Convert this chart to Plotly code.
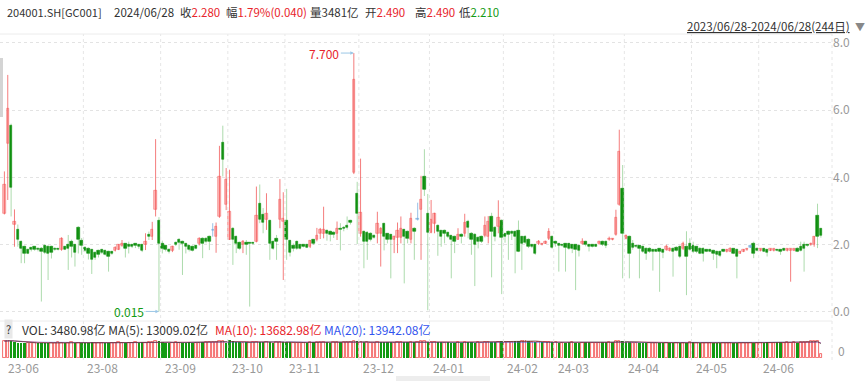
import numpy as np
import pandas as pd
import plotly.graph_objects as go

# ---------------- data ----------------
holidays = ["2023-09-29", "2023-10-02", "2023-10-03", "2023-10-04", "2023-10-05", "2023-10-06",
            "2024-01-01", "2024-02-09", "2024-02-12", "2024-02-13", "2024-02-14", "2024-02-15",
            "2024-02-16", "2024-04-04", "2024-04-05", "2024-05-01", "2024-05-02", "2024-05-03",
            "2024-06-10"]
dates = pd.bdate_range("2023-06-28", "2024-06-28", freq="C", holidays=holidays)

open_ = [
    2.94, 5.00, 5.54,
    2.59, 2.44, 2.09, 1.94, 1.85, 1.90, 1.94, 1.89, 1.89, 1.96, 1.94, 1.94, 1.89, 1.88, 1.84, 1.94, 1.99, 2.10, 1.99, 2.51, 2.12,
    1.92, 1.89, 1.84, 1.76, 1.82, 1.84, 1.82, 1.79, 1.79, 1.82, 1.86, 1.96, 2.02, 1.99, 1.99, 2.02, 1.99, 1.99, 1.99, 2.29, 2.24, 3.03, 2.73,
    2.02, 1.96, 1.86, 1.82, 2.06, 2.16, 2.09, 2.02, 1.96, 1.94, 1.96, 2.02, 2.19, 2.19, 2.24, 2.42, 2.24, 2.84, 5.04, 3.18,
    2.16, 2.49, 2.24, 2.06, 1.99, 2.04, 2.06, 2.04, 2.09, 3.21, 2.89, 2.74, 2.71, 2.09, 2.19, 2.74, 2.70,
    2.71, 2.11, 1.96, 2.09, 1.99, 1.98, 1.99, 1.94, 2.14, 2.14, 2.32, 2.32, 2.42, 2.39, 2.37, 2.34, 2.47, 2.50, 2.56, 2.71, 4.15, 3.51,
    2.34, 2.39, 2.36, 2.34, 2.26, 2.34, 2.34, 2.62, 2.32, 2.29, 2.14, 2.22, 2.22, 2.44, 2.39, 2.14, 2.49, 2.74, 3.04, 4.03, 2.92,
    2.36, 2.64, 2.56, 2.41, 2.42, 2.36, 2.26, 2.24, 2.16, 2.31, 2.34, 2.69, 2.34, 2.31, 2.22, 2.24, 2.26, 2.24, 2.85, 2.52, 2.54, 2.72,
    2.32, 2.39, 2.39, 2.39, 2.41, 2.24, 2.24, 2.16, 1.99, 1.99, 2.02, 2.00, 2.04, 2.19, 2.24,
    2.09, 2.02, 2.00, 2.02, 2.02, 1.99, 1.99, 1.97, 2.02, 2.09, 1.99, 1.98, 1.96, 2.02, 2.09, 2.09, 2.14, 2.15, 2.29, 3.18, 3.68,
    2.19, 2.24, 2.02, 1.96, 1.96, 1.94, 1.89, 1.89, 1.85, 1.84, 1.87, 1.85, 1.85, 1.82, 1.89, 1.92, 1.94, 1.89, 1.94, 2.02,
    1.96, 1.94, 1.89, 1.89, 1.85, 1.83, 1.83, 1.80, 1.80, 1.82, 1.79, 1.80, 1.87, 1.85, 1.75, 1.80, 1.84, 1.92, 2.02, 1.89,
    1.82, 1.87, 1.85, 1.83, 1.82, 1.85, 1.85, 1.84, 1.82, 1.83, 1.83, 1.89, 1.94, 1.99, 1.99, 1.99, 1.99, 2.86, 2.49,
]
high = [
    4.18, 7.05, 5.60,
    3.05, 2.60, 2.12, 1.97, 1.88, 1.92, 1.96, 1.92, 1.93, 2.00, 1.98, 1.97, 1.92, 1.90, 2.22, 1.96, 2.29, 2.15, 2.02, 2.55, 2.20,
    1.95, 1.92, 1.87, 1.80, 1.85, 1.87, 1.85, 1.82, 1.81, 1.95, 2.02, 2.14, 2.05, 2.09, 2.02, 2.05, 2.02, 2.02, 2.34, 2.39, 2.68, 5.14, 2.82,
    2.12, 1.99, 1.89, 1.97, 2.09, 2.19, 2.12, 2.05, 1.99, 1.97, 1.99, 2.22, 2.22, 2.22, 2.27, 2.64, 2.66, 4.94, 5.54, 4.28,
    4.23, 2.52, 2.27, 2.09, 2.14, 2.14, 2.08, 2.06, 3.73, 3.79, 3.09, 3.53, 2.74, 2.12, 2.29, 3.95, 3.56,
    3.66, 2.14, 2.04, 2.12, 2.02, 2.00, 2.02, 2.14, 2.17, 2.50, 2.50, 3.13, 2.45, 2.42, 2.40, 2.69, 2.64, 2.55, 2.84, 2.74, 7.70, 3.87,
    4.56, 2.42, 2.40, 2.37, 2.30, 2.98, 2.52, 2.65, 2.34, 2.32, 2.27, 2.66, 2.84, 2.47, 2.42, 2.95, 2.52, 3.25, 4.05, 4.84, 3.51,
    3.33, 2.95, 2.60, 2.44, 2.45, 2.39, 2.29, 2.27, 2.49, 2.34, 2.92, 2.74, 2.37, 2.34, 2.25, 2.27, 2.84, 2.85, 2.95, 2.55, 3.32, 2.75,
    2.35, 2.42, 2.42, 2.42, 2.72, 2.26, 2.28, 2.19, 2.02, 2.02, 2.14, 2.05, 2.12, 2.49, 2.27,
    2.12, 2.05, 2.02, 2.05, 2.05, 2.02, 2.02, 2.00, 2.19, 2.12, 2.02, 2.00, 1.98, 2.12, 2.12, 2.12, 2.24, 2.19, 3.04, 5.42, 4.37,
    2.30, 2.27, 2.14, 1.98, 1.99, 1.97, 1.92, 1.92, 1.87, 1.86, 1.90, 1.87, 2.00, 1.92, 1.92, 1.95, 1.97, 2.09, 2.40, 2.19,
    2.09, 1.96, 1.92, 1.92, 1.87, 1.85, 1.85, 1.82, 1.82, 1.84, 1.87, 1.92, 1.90, 1.88, 1.82, 1.87, 1.89, 1.98, 2.09, 1.92,
    1.89, 1.89, 1.87, 1.89, 1.89, 1.87, 1.87, 1.86, 1.89, 1.89, 1.89, 1.92, 2.09, 2.09, 2.01, 2.06, 2.26, 3.22, 2.49,
]
low = [
    2.90, 3.33, 2.84,
    1.94, 1.94, 1.45, 1.45, 1.72, 1.80, 1.82, 1.80, 0.31, 1.72, 0.95, 1.59, 1.82, 1.83, 1.82, 1.84, 1.25, 1.62, 1.35, 1.74, 1.70,
    1.78, 1.56, 1.13, 1.55, 1.62, 1.72, 1.68, 1.20, 1.70, 1.80, 1.84, 1.94, 1.62, 1.74, 1.90, 1.90, 1.88, 1.78, 1.84, 2.14, 2.14, 2.84, 0.015,
    1.74, 1.80, 1.74, 1.78, 1.96, 1.85, 1.10, 1.74, 1.80, 1.80, 1.86, 1.98, 1.60, 2.04, 1.84, 2.24, 1.76, 2.80, 4.03, 3.03,
    2.14, 1.40, 1.75, 1.85, 1.75, 1.70, 0.16, 2.00, 2.07, 2.64, 2.34, 2.44, 1.55, 1.85, 1.55, 2.49, 0.95,
    1.55, 1.65, 1.80, 1.85, 1.86, 1.92, 1.90, 1.90, 2.00, 2.10, 2.17, 2.19, 2.12, 2.10, 2.20, 2.14, 1.83, 2.40, 2.45, 2.60, 4.10, 2.02,
    2.24, 1.30, 1.55, 2.10, 2.18, 2.04, 1.35, 1.83, 2.04, 1.00, 1.75, 1.75, 2.04, 0.85, 2.04, 2.04, 1.55, 2.72, 1.55, 3.45, 0.05,
    2.34, 2.34, 1.67, 1.94, 2.04, 2.20, 1.00, 1.75, 2.14, 2.04, 2.24, 2.19, 1.70, 0.77, 1.89, 2.05, 2.22, 2.04, 1.03, 2.10, 2.34, 0.53,
    2.06, 1.55, 2.14, 1.15, 1.78, 1.25, 2.02, 1.90, 1.90, 1.70, 1.99, 1.98, 2.02, 2.14, 1.88,
    1.94, 1.20, 1.94, 1.20, 1.85, 1.75, 0.65, 1.65, 2.00, 1.95, 1.80, 1.92, 1.93, 2.00, 1.96, 1.90, 2.12, 2.13, 2.27, 3.16, 1.00,
    2.16, 1.00, 1.85, 1.90, 1.00, 1.76, 1.55, 1.76, 1.23, 1.78, 0.60, 1.60, 1.82, 1.80, 1.05, 1.80, 1.60, 1.84, 0.50, 1.82,
    1.75, 1.75, 1.72, 1.50, 1.78, 1.78, 1.55, 1.30, 1.63, 1.78, 1.77, 1.78, 1.72, 1.00, 1.73, 1.78, 1.82, 1.90, 1.60, 1.80,
    1.80, 1.78, 1.65, 1.81, 1.80, 1.80, 1.70, 1.81, 1.80, 0.90, 1.81, 1.78, 1.80, 1.20, 1.94, 1.97, 1.94, 1.90, 2.21,
]
close = [
    3.78, 6.06, 3.71,
    2.69, 2.14, 1.87, 1.75, 1.75, 1.85, 1.86, 1.84, 1.79, 1.76, 1.74, 1.76, 1.84, 1.85, 2.19, 1.86, 1.89, 1.95, 1.77, 2.14, 1.96,
    1.82, 1.74, 1.57, 1.62, 1.72, 1.76, 1.72, 1.64, 1.74, 1.92, 1.99, 2.04, 1.89, 1.94, 1.95, 1.96, 1.94, 1.82, 2.09, 2.24, 2.44, 3.62, 2.02,
    1.89, 1.84, 1.80, 1.94, 1.99, 2.06, 2.02, 1.94, 1.84, 1.82, 1.89, 2.19, 2.04, 2.09, 2.09, 2.42, 2.54, 4.03, 4.54, 3.93,
    2.99, 2.16, 2.02, 1.89, 2.09, 2.01, 2.02, 2.02, 2.86, 2.74, 2.66, 2.94, 2.02, 1.87, 2.09, 3.35, 2.78,
    2.14, 1.77, 1.87, 1.89, 1.89, 1.95, 1.92, 2.11, 2.04, 2.26, 2.44, 2.44, 2.34, 2.29, 2.29, 2.49, 2.44, 2.48, 2.52, 2.66, 6.92, 2.92,
    2.96, 2.09, 2.09, 2.14, 2.22, 2.64, 2.49, 2.24, 2.16, 2.14, 2.24, 2.42, 2.49, 2.24, 2.19, 2.79, 2.39, 2.74, 3.33, 3.65, 2.36,
    2.74, 2.92, 2.39, 2.24, 2.34, 2.24, 2.16, 2.09, 2.29, 2.24, 2.66, 2.52, 2.14, 1.99, 2.09, 2.09, 2.56, 2.70, 2.40, 2.24, 2.82, 2.22,
    2.24, 2.29, 2.32, 2.24, 1.80, 2.04, 2.06, 1.94, 1.94, 1.75, 2.09, 2.03, 2.09, 2.39, 1.92,
    2.02, 1.96, 1.97, 1.92, 1.89, 1.89, 1.85, 1.83, 2.09, 1.99, 1.94, 1.95, 1.95, 2.09, 1.99, 1.96, 2.19, 2.17, 2.82, 4.77, 2.34,
    2.26, 1.75, 1.92, 1.93, 1.87, 1.80, 1.73, 1.80, 1.80, 1.81, 1.80, 1.78, 1.94, 1.89, 1.80, 1.83, 1.65, 2.02, 1.65, 1.85,
    1.80, 1.80, 1.75, 1.75, 1.80, 1.80, 1.75, 1.70, 1.67, 1.80, 1.85, 1.89, 1.75, 1.65, 1.80, 1.85, 1.87, 1.92, 1.75, 1.83,
    1.87, 1.80, 1.78, 1.87, 1.87, 1.82, 1.79, 1.83, 1.87, 1.87, 1.87, 1.80, 1.83, 1.89, 1.96, 2.04, 2.24, 2.24, 2.28,
]
volume = [  # 亿
    15500, 16200, 15800,
    14800, 14200, 13900, 13600, 13800, 14100, 13700, 13500, 13900, 14200, 13800, 13600, 14000, 14300, 13900, 13700, 14100, 14400, 14000, 13800, 14200,
    14100, 13900, 14300, 13800, 13600, 14000, 14200, 13900, 13700, 14100, 14400, 14200, 13800, 14000, 13900, 14300, 14100, 14500, 14200, 14600, 14800, 15200, 15600,
    14300, 14000, 13800, 14100, 14400, 14200, 13900, 14100, 14300, 14000, 13800, 14200, 14500, 14300, 14600, 14900, 15100, 15800, 15300, 14200,
    17200, 15400, 14800, 14500, 14200, 14300, 14000, 14400, 14900, 15100, 14700, 14800, 14500, 14200, 14300, 14700, 14900,
    15000, 14600, 14200, 14000, 14100, 13900, 14200, 14400, 14300, 14600, 14800, 14500, 14300, 14200, 14400, 14600, 14500, 14700, 14800, 14900, 15500, 15200,
    14800, 14500, 14300, 14100, 14200, 14600, 14400, 14700, 14500, 14300, 14200, 14500, 14700, 14400, 14300, 14800, 14600, 14900, 15200, 15400, 15100,
    14600, 14800, 14500, 14300, 14200, 14400, 14100, 14000, 14300, 14200, 14600, 14700, 14400, 14200, 14300, 14100, 14500, 14800, 14900, 14600, 15000, 15300,
    14700, 14500, 14900, 15200, 15800, 16000, 17000, 15400, 14800, 14600, 14500, 14300, 14400, 14700, 14500,
    14300, 14100, 14000, 14200, 14400, 14300, 14100, 14000, 14200, 14500, 14300, 14100, 14000, 14200, 14400, 14600, 14700, 15000, 15400, 15700, 15200,
    14600, 14400, 14200, 14000, 13900, 14100, 14000, 13800, 13900, 14100, 14000, 13800, 13900, 14100, 14200, 14000, 13800, 14000, 14200, 14400,
    14300, 14100, 14000, 13900, 14000, 13800, 13700, 13900, 14000, 13800, 13700, 13900, 14000, 13800, 13900, 14100, 14000, 14200, 14100, 14000,
    14200, 14100, 14300, 14200, 14000, 14300, 14400, 14200, 14312, 14100, 14300, 14200, 14500, 14685, 14900, 15200, 15464, 16000, 3480.98,
]
month_keys = ["2023-06", "2023-08", "2023-09", "2023-10", "2023-11", "2023-12",
              "2024-01", "2024-02", "2024-03", "2024-04", "2024-05", "2024-06"]
month_labels = ["23-06", "23-08", "23-09", "23-10", "23-11", "23-12",
                "24-01", "24-02", "24-03", "24-04", "24-05", "24-06"]
y_ticks = [0, 2, 4, 6, 8]
y_tick_text = ["0.0", "2.0", "4.0", "6.0", "8.0"]

# ---------------- prep ----------------
o = np.array(open_, float); h = np.array(high, float)
l = np.array(low, float); c = np.array(close, float)
v = np.array(volume, float)
n = len(c)
x = np.arange(n)
ym = pd.Series(dates[:n]).dt.strftime("%Y-%m").values
month_idx = [int(np.where(ym == k)[0][0]) for k in month_keys]

up = c > o
dn = c < o
dj = c == o

W, H = 865, 381
PW = 832  # plot area width in px


def py(p):
    return 1 - p / H


def px(p):
    return p / PW


RED_L = "rgba(240,70,70,0.7)"
RED_F = "#ffc0c0"
GRN_L = "rgba(40,160,40,0.38)"
GRN_F = "#0f8f0f"
BLU_L = "rgba(110,165,220,0.7)"

fig = go.Figure()


def wicks(mask):
    xs, ys = [], []
    for i in np.where(mask)[0]:
        xs += [int(i), int(i), None]
        ys += [l[i], h[i], None]
    return xs, ys


for mask, col in [(dn, GRN_L), (up, RED_L), (dj, BLU_L)]:
    xs, ys = wicks(mask)
    fig.add_trace(go.Scatter(x=xs, y=ys, mode="lines", line=dict(color=col, width=1),
                             hoverinfo="skip", showlegend=False, xaxis="x", yaxis="y"))

body_h = np.maximum(np.abs(c - o), 0.04)
body_b = np.minimum(o, c)
for mask, fill, line in [(dn, GRN_F, GRN_F), (up, RED_F, "rgba(240,80,80,0.8)"), (dj, BLU_L, BLU_L)]:
    fig.add_trace(go.Bar(x=x[mask], y=body_h[mask], base=body_b[mask], width=0.72,
                         marker=dict(color=fill, line=dict(color=line, width=0.6)),
                         showlegend=False, xaxis="x", yaxis="y"))

# volume bars: colour by change versus previous close
prev_c = np.concatenate([[o[0]], c[:-1]])
vup = c >= prev_c
fig.add_trace(go.Bar(x=x[~vup], y=v[~vup], width=0.72,
                     marker=dict(color="#139a13", line=dict(width=0)),
                     showlegend=False, xaxis="x2", yaxis="y2"))
fig.add_trace(go.Bar(x=x[vup], y=v[vup], width=0.72,
                     marker=dict(color="white", line=dict(color="#f04848", width=0.8)),
                     showlegend=False, xaxis="x2", yaxis="y2"))
vs = pd.Series(v)
for win, col in [(20, "#3355ee"), (10, "#e8242b"), (5, "#333333")]:
    fig.add_trace(go.Scatter(x=x, y=vs.rolling(win, min_periods=1).mean(), mode="lines",
                             line=dict(color=col, width=0.8), opacity=0.7,
                             showlegend=False, xaxis="x2", yaxis="y2"))

xr = [-4.4 / 3.36, (PW - 4.4) / 3.36]
fig.update_layout(
    width=W, height=H, margin=dict(l=0, r=W - PW, t=0, b=0, pad=0, autoexpand=False),
    paper_bgcolor="white", plot_bgcolor="white", barmode="overlay", bargap=0,
    showlegend=False,
    font=dict(family="Noto Sans CJK SC, Noto Sans, sans-serif", size=12, color="#333"),
    xaxis=dict(domain=[0, 1], range=xr, showgrid=False, zeroline=False, showticklabels=False,
               anchor="y", showline=False, automargin=False),
    xaxis2=dict(domain=[0, 1], range=xr, matches="x", showgrid=False, zeroline=False,
                showticklabels=False, anchor="y2", automargin=False),
    yaxis=dict(domain=[py(317), py(39.6)], range=[-0.15, 8.1], side="right",
               tickvals=y_ticks, ticktext=y_tick_text, showgrid=True, gridcolor="#e3e3e3",
               griddash="dot", zeroline=False, tickfont=dict(color="#999", size=12),
               ticks="", anchor="x", automargin=False),
    yaxis2=dict(domain=[py(358), py(340)], range=[0, 16500], showgrid=False, zeroline=False,
                showticklabels=False, anchor="x2", automargin=False),
)

shapes = []
for mi in month_idx[1:]:
    shapes.append(dict(type="line", xref="x", yref="paper", x0=mi - 0.5, x1=mi - 0.5,
                       y0=py(360), y1=py(34), line=dict(color="#e6e6e6", width=1, dash="dot")))
shapes.append(dict(type="line", xref="paper", yref="paper", x0=1, x1=1, y0=py(360), y1=py(34),
                   line=dict(color="#e6e6e6", width=1, dash="dot")))
for yy in (34, 321):
    shapes.append(dict(type="line", xref="paper", yref="paper", x0=0, x1=1, y0=py(yy), y1=py(yy),
                       line=dict(color="#ececec", width=1)))
shapes.append(dict(type="rect", xref="paper", yref="paper", x0=0, x1=px(3), y0=py(117), y1=py(58),
                   fillcolor="#d4d4d4", line=dict(width=0)))
shapes.append(dict(type="rect", xref="paper", yref="paper", x0=px(396), x1=px(490), y0=0, y1=py(376),
                   fillcolor="#ededed", line=dict(width=0)))
fig.update_layout(shapes=shapes)

ann = []
RED = "#e8242b"
GREEN = "#139a13"


def t(xp, yp, text, color="#333", size=12, anchor="left"):
    ann.append(dict(xref="paper", yref="paper", x=px(xp), y=py(yp), text=text, showarrow=False,
                    xanchor=anchor, yanchor="middle", font=dict(color=color, size=size)))


def s(txt, col):
    return "<span style='color:%s'>%s</span>" % (col, txt)


HS = 11.5
t(5, 12, "204001.SH[GC001]", size=11)
t(112, 12, "2024/06/28", size=HS)
t(178, 12, "收" + s("2.280", RED), size=HS)
t(224, 12, "幅" + s("1.79%(0.040)", RED), size=HS)
t(308, 12, "量3481亿", size=HS)
t(363, 12, "开" + s("2.490", RED), size=HS)
t(413, 12, "高" + s("2.490", RED), size=HS)
t(457, 12, "低" + s("2.210", GREEN), size=HS)
t(852, 26.5, "<u>2023/06/28-2024/06/28(244日)</u>", size=11.5, anchor="right")
t(853, 26, "▼", color="#888", size=10)

# volume header
ann.append(dict(xref="paper", yref="paper", x=px(4), y=py(329), text="?", showarrow=False,
                xanchor="left", yanchor="middle", bgcolor="#e8e8e8", font=dict(size=11, color="#333"),
                borderpad=1))
t(20, 329, "VOL: 3480.98亿 MA(5): 13009.02亿")
t(213, 329, "MA(10): 13682.98亿", color=RED)
t(322, 329, "MA(20): 13942.08亿", color="#3355ee")
t(836, 350, "0", color="#999")

for mi, lab in zip(month_idx, month_labels):
    ann.append(dict(xref="x", yref="paper", x=mi - 0.5 if mi > 0 else 0, y=py(367), text=lab,
                    showarrow=False, xanchor="left", yanchor="middle", xshift=2,
                    font=dict(color="#999", size=12)))

imax = int(np.argmax(h)); imin = int(np.argmin(l))
ann.append(dict(xref="x", yref="y", x=imax, y=h[imax], text="%.3f" % h[imax], showarrow=True,
                ax=-13, ay=0, xanchor="right", arrowcolor="#9cc7e6", arrowwidth=1, arrowhead=2,
                arrowsize=0.7, font=dict(color=RED, size=12)))
ann.append(dict(xref="x", yref="y", x=imin, y=l[imin], text="%.3f" % l[imin], showarrow=True,
                ax=-13, ay=0, xanchor="right", arrowcolor="#9cc7e6", arrowwidth=1, arrowhead=2,
                arrowsize=0.7, font=dict(color=GREEN, size=12)))
fig.update_layout(annotations=ann)

fig.write_html("out.html")
